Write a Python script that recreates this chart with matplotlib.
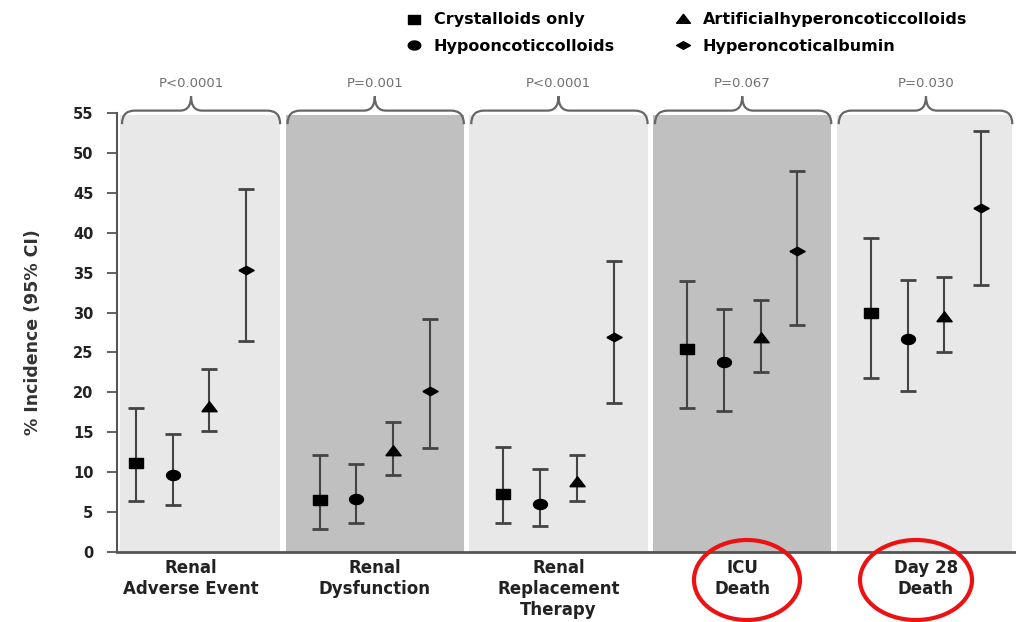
import numpy as np
import matplotlib
matplotlib.use("Agg")
import matplotlib.pyplot as plt
from matplotlib.lines import Line2D
from matplotlib.path import Path
from matplotlib.patches import PathPatch, Ellipse

# Outcomes and fluid groups
outcomes = ["Renal\nAdverse Event", "Renal\nDysfunction", "Renal\nReplacement\nTherapy",
            "ICU\nDeath", "Day 28\nDeath"]
p_values = ["P<0.0001", "P=0.001", "P<0.0001", "P=0.067", "P=0.030"]
groups = ["Crystalloids only", "Hypooncoticcolloids",
          "Artificialhyperoncoticcolloids", "Hyperoncoticalbumin"]

# % incidence with 95% CI, one list per group (order of outcomes)
crystalloids = [11.2, 6.5, 7.3, 25.4, 29.9]
crystalloids_lo = [6.4, 2.9, 3.6, 18.1, 21.8]
crystalloids_hi = [18.0, 12.2, 13.1, 34.0, 39.4]

hypo = [9.7, 6.6, 6.0, 23.8, 26.7]
hypo_lo = [5.9, 3.6, 3.2, 17.7, 20.2]
hypo_hi = [14.8, 11.0, 10.4, 30.5, 34.1]

artificial = [18.2, 12.6, 8.8, 26.8, 29.4]
artificial_lo = [15.1, 9.6, 6.4, 22.5, 25.1]
artificial_hi = [22.9, 16.3, 12.1, 31.6, 34.4]

albumin = [35.3, 20.2, 26.9, 37.7, 43.1]
albumin_lo = [26.4, 13.0, 18.7, 28.4, 33.4]
albumin_hi = [45.5, 29.2, 36.5, 47.7, 52.7]

series = [
    (crystalloids, crystalloids_lo, crystalloids_hi),
    (hypo, hypo_lo, hypo_hi),
    (artificial, artificial_lo, artificial_hi),
    (albumin, albumin_lo, albumin_hi),
]

# flattened marker shapes
t = np.linspace(0, 2 * np.pi, 40)
MARKERS = [
    [(-1, -0.72), (1, -0.72), (1, 0.72), (-1, 0.72), (-1, -0.72)],
    list(zip(np.cos(t), 0.72 * np.sin(t))),
    [(-1, -0.55), (1, -0.55), (0, 0.75), (-1, -0.55)],
    [(-1, 0), (0, 0.55), (1, 0), (0, -0.55), (-1, 0)],
]
MSIZE = [10, 10, 11, 11]
OFFSETS = [-0.3, -0.1, 0.1, 0.3]

LIGHT = "#e8e8e8"
DARK = "#c0c0c0"
AXIS = "#555555"
TEXT = "#222222"

plt.rcParams["font.family"] = ["DejaVu Sans"]

fig = plt.figure(figsize=(10.16, 6.22), dpi=100)
ax = fig.add_axes([117 / 1016, 1 - 552 / 622, 1 - 117 / 1016, (552 - 113) / 622])

XMIN, XMAX = -0.403, 4.49
x = np.arange(len(outcomes))
half = 0.485
edges = []
for i in x:
    left, right = max(i - half, XMIN + 0.017), min(i + half, 4.47)
    edges.append((left, right))
    ax.axvspan(left, right, ymax=0.996, color=DARK if i % 2 else LIGHT,
               lw=0, zorder=0)

for k, (val, lo, hi) in enumerate(series):
    val = np.array(val)
    err = [val - np.array(lo), np.array(hi) - val]
    ax.errorbar(x + OFFSETS[k], val, yerr=err, fmt="none", ecolor="#444444",
                elinewidth=1.5, capsize=6, capthick=2, zorder=3)
    ax.plot(x + OFFSETS[k], val, linestyle="none", marker=MARKERS[k],
            markersize=MSIZE[k], color="black", zorder=4)

# braces with P values above each outcome
yb, yl, yp = 53.6, 55.3, 57.1
r, r2 = 0.07, 0.06
for i in x:
    (x0, x1), xm = edges[i], i
    x0 += 0.01
    verts = [(x0, yb), (x0, yl), (x0 + r, yl),
             (xm - r2, yl), (xm, yl), (xm, yp),
             (xm, yl), (xm + r2, yl),
             (x1 - r, yl), (x1, yl), (x1, yb)]
    codes = [Path.MOVETO, Path.CURVE3, Path.CURVE3,
             Path.LINETO, Path.CURVE3, Path.CURVE3,
             Path.CURVE3, Path.CURVE3,
             Path.LINETO, Path.CURVE3, Path.CURVE3]
    ax.add_patch(PathPatch(Path(verts, codes), fill=False, edgecolor="#666666",
                           lw=1.6, clip_on=False, zorder=5))
    ax.text(xm, 58.7, p_values[i], ha="center", va="center", fontsize=9.5,
            color="#707070", clip_on=False)

ax.set_xlim(XMIN, XMAX)
ax.set_ylim(0, 55)
ax.set_yticks(range(0, 56, 5))
ax.set_xticks(x, outcomes)
for lab in ax.get_xticklabels() + ax.get_yticklabels():
    lab.set_fontweight("bold")
    lab.set_color(TEXT)
ax.tick_params(axis="x", length=0, pad=5, labelsize=12)
ax.tick_params(axis="y", direction="out", length=7, width=1.3, color=AXIS,
               pad=10, labelsize=10.5)
ax.set_ylabel("% Incidence (95% CI)", fontsize=12.5, fontweight="bold",
              color="#333333", labelpad=22)
for s in ("top", "right"):
    ax.spines[s].set_visible(False)
ax.spines["left"].set_color(AXIS)
ax.spines["left"].set_linewidth(1.5)
ax.spines["bottom"].set_color(AXIS)
ax.spines["bottom"].set_linewidth(2)

handles = [Line2D([], [], linestyle="none", marker=MARKERS[k], markersize=MSIZE[k] - 1,
                  color="black") for k in range(4)]
fig.legend(handles, groups, loc="upper left", bbox_to_anchor=(392 / 1016, 1 + 2 / 622),
           ncol=2, frameon=False, handlelength=0.9, handletextpad=0.8,
           columnspacing=3.8, labelspacing=0.72,
           prop={"weight": "bold", "size": 11.5})

# highlight the mortality outcomes
for cx, cy, w, h in [(747, 580, 106, 80), (916, 580, 112, 80)]:
    fig.add_artist(Ellipse((cx / 1016, 1 - cy / 622), w / 1016, h / 622,
                           transform=fig.transFigure, fill=False,
                           edgecolor="#ee1111", lw=3))

fig.savefig("out.png", dpi=100, facecolor="white")
